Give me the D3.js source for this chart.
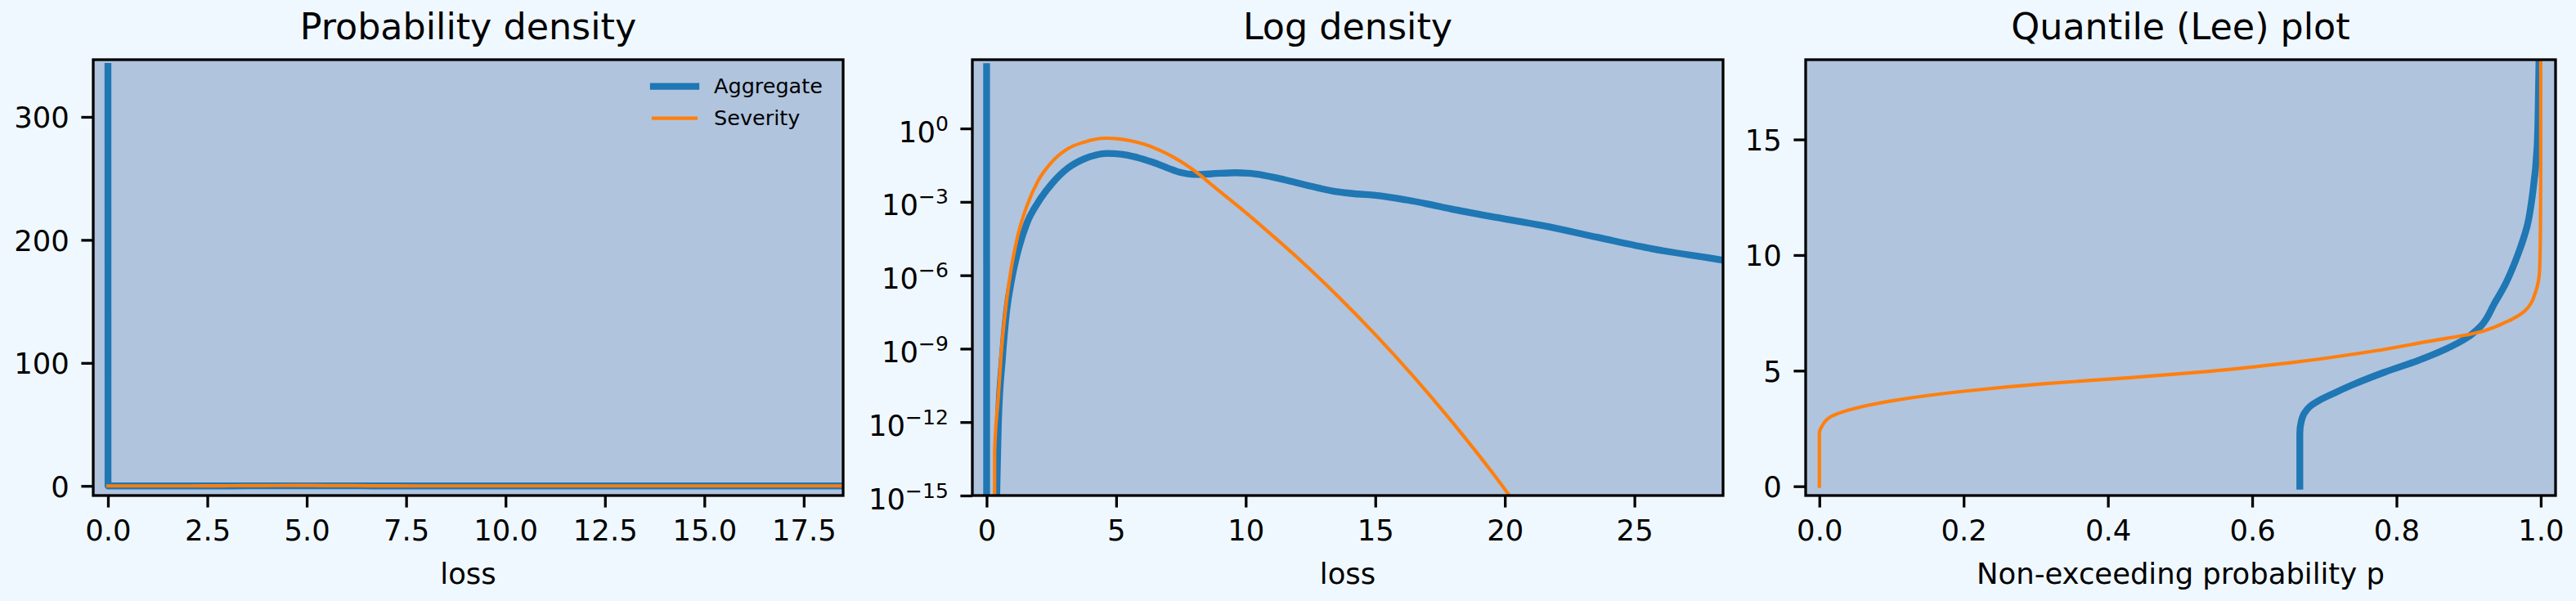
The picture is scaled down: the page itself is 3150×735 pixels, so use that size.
<!DOCTYPE html>
<html>
<head>
<meta charset="utf-8">
<script src="https://cdn.jsdelivr.net/npm/d3@7"></script>
<style>
  body { margin: 0; background: #f0f8ff; }
  svg { display: block; font-family: 'DejaVu Sans', sans-serif; }
</style>
</head>
<body>
<svg id="chart" width="3150" height="735"></svg>
<script>
// Aggregate density (loss, density) - mass at zero shows as a spike
let aggLoss = [0, 0.002, 0.38, 0.45, 0.61, 0.77, 0.98, 1.24, 1.56, 1.98, 2.51, 3.14, 3.78, 4.2, 4.65, 5.2, 5.8, 6.4, 7.0, 7.5, 8.0, 8.7, 9.6, 10.4, 11.2, 12.0, 12.8, 13.5, 14.3, 15.0, 16.2, 17.0, 17.9, 19.4, 21.5, 23.6, 25.7, 28.5, 30];
let aggDensity = [341, 1e-30, 3e-16, 6.3e-13, 4e-10, 3.2e-8, 7.9e-7, 1.26e-5, 1.4e-4, 9.3e-4, 5.4e-3, 2.4e-2, 5.8e-2, 8.1e-2, 9.5e-2, 8.9e-2, 6.6e-2, 4.2e-2, 2.4e-2, 1.58e-2, 1.32e-2, 1.41e-2, 1.55e-2, 1.38e-2, 9.5e-3, 5.9e-3, 3.7e-3, 2.6e-3, 2.1e-3, 1.86e-3, 1.2e-3, 8.3e-4, 5.2e-4, 2.6e-4, 1.05e-4, 3.5e-5, 1.2e-5, 4.0e-6, 2.0e-6];

// Severity density
let sevLoss = [0, 0.30, 0.31, 0.45, 0.56, 0.72, 0.93, 1.19, 1.56, 1.98, 2.51, 3.14, 3.78, 4.2, 4.62, 5.1, 5.57, 6.1, 6.62, 7.15, 7.68, 8.2, 8.73, 9.79, 10.84, 12.0, 13.5, 15.0, 16.5, 18.0, 19.5, 21.0];
let sevDensity = [1e-30, 1e-30, 6.3e-14, 1.0e-11, 5.6e-10, 3.2e-8, 1.4e-6, 3.6e-5, 7.1e-4, 7.1e-3, 4.2e-2, 0.15, 0.28, 0.365, 0.40, 0.375, 0.313, 0.224, 0.138, 0.0731, 0.0333, 0.0135, 4.57e-3, 5.6e-4, 6.3e-5, 5.2e-6, 1.6e-7, 3.8e-9, 6.8e-11, 9.1e-13, 9.1e-15, 6.3e-17];

// Quantile (Lee) plot: probability p -> loss
let aggProb = [0.666, 0.666, 0.668, 0.672, 0.68, 0.695, 0.715, 0.74, 0.784, 0.83, 0.868, 0.898, 0.917, 0.936, 0.951, 0.969, 0.981, 0.989, 0.995, 0.9968, 0.9976, 0.998];
let aggQuantile = [0, 2.3, 2.8, 3.15, 3.45, 3.75, 4.05, 4.4, 4.94, 5.44, 5.93, 6.43, 6.93, 7.92, 8.75, 10.08, 11.24, 12.73, 14.72, 17.0, 18.45, 20];
let sevProb = [0, 0, 0.004, 0.017, 0.048, 0.101, 0.2, 0.314, 0.427, 0.541, 0.655, 0.769, 0.845, 0.906, 0.951, 0.978, 0.993, 0.9985, 0.9995, 0.9999, 1.0, 1.0];
let sevQuantile = [0, 2.29, 2.62, 3.03, 3.36, 3.70, 4.11, 4.44, 4.69, 4.97, 5.35, 5.85, 6.27, 6.6, 7.09, 7.59, 8.42, 9.41, 11, 13, 18.45, 20];

let seriesNames = ['Aggregate', 'Severity'];
let seriesColors = ['#1f77b4', '#ff7f0e'];

let panelTitles = ['Probability density', 'Log density', 'Quantile (Lee) plot'];
let xLabels = ['loss', 'loss', 'Non-exceeding probability p'];

let pdfTicksX = [0, 2.5, 5, 7.5, 10, 12.5, 15, 17.5];
let pdfTicksY = [0, 100, 200, 300];
let logTicksX = [0, 5, 10, 15, 20, 25];
let logTicksY = [1e0, 1e-3, 1e-6, 1e-9, 1e-12, 1e-15];
let qTicksX = [0, 0.2, 0.4, 0.6, 0.8, 1.0];
let qTicksY = [0, 5, 10, 15];

let svg = d3.select('#chart');
svg.append('rect').attr('width', 3150).attr('height', 735).attr('fill', '#f0f8ff');

// layout
let plotTop = 73, plotBottom = 606;
let panelX = [[114, 1031], [1189, 2107], [2208, 3125]];
let tickLen = 14.6, spineW = 3.3;
let tickFont = 35.4, titleFont = 44.4, legendFont = 25.5;
let lineWidths = [8.33, 4.17];

function makeSeries(xs, ys) {
    return xs.map((x, i) => ({x: x, y: ys[i]}));
}

function drawPanel(i, xScale, yScale, series, xTicks, xFmt, yTicks, yFmt, curve) {
    let left = panelX[i][0], right = panelX[i][1];
    let g = svg.append('g').attr('id', 'panel' + i);

    // background
    g.append('rect')
    .attr('x', left).attr('y', plotTop)
    .attr('width', right - left).attr('height', plotBottom - plotTop)
    .attr('fill', '#b0c4de');

    g.append('clipPath').attr('id', 'clip' + i)
    .append('rect')
    .attr('x', left).attr('y', plotTop)
    .attr('width', right - left).attr('height', plotBottom - plotTop);

    let line = d3.line()
    .x((d) => xScale(d.x))
    .y((d) => yScale(d.y))
    .curve(curve);

    let lines = g.append('g').attr('clip-path', 'url(#clip' + i + ')');
    series.forEach((s, k) => {
        lines.append('path')
        .attr('d', line(s))
        .attr('fill', 'none')
        .attr('stroke', seriesColors[k])
        .attr('stroke-width', lineWidths[k])
        .attr('stroke-linecap', 'square')
        .attr('stroke-linejoin', 'round');
    });

    // x axis
    let xAxis = d3.axisBottom(xScale).tickValues(xTicks).tickFormat(xFmt)
    .tickSize(tickLen).tickPadding(15);
    let xg = g.append('g').attr('transform', 'translate(0,' + plotBottom + ')').call(xAxis);
    xg.select('.domain').remove();
    xg.attr('font-size', tickFont).attr('font-family', 'DejaVu Sans');
    xg.selectAll('.tick line').attr('stroke', '#000').attr('stroke-width', spineW);
    xg.selectAll('.tick text').attr('fill', '#000');

    // y axis
    let yAxis = d3.axisLeft(yScale).tickValues(yTicks).tickFormat(yFmt)
    .tickSize(tickLen).tickPadding(14.6);
    let yg = g.append('g').attr('transform', 'translate(' + left + ',0)').call(yAxis);
    yg.select('.domain').remove();
    yg.attr('font-size', tickFont).attr('font-family', 'DejaVu Sans');
    yg.selectAll('.tick line').attr('stroke', '#000').attr('stroke-width', spineW);
    yg.selectAll('.tick text').attr('fill', '#000').attr('dy', '0.36em');

    // spines on top
    g.append('rect')
    .attr('x', left).attr('y', plotTop)
    .attr('width', right - left).attr('height', plotBottom - plotTop)
    .attr('fill', 'none')
    .attr('stroke', '#000')
    .attr('stroke-width', spineW);

    // title
    g.append('text')
    .text(panelTitles[i])
    .attr('x', (left + right) / 2)
    .attr('y', 48)
    .attr('text-anchor', 'middle')
    .style('font-size', titleFont + 'px')
    .style('fill', '#000');

    // x label
    g.append('text')
    .text(xLabels[i])
    .attr('x', (left + right) / 2)
    .attr('y', 714)
    .attr('text-anchor', 'middle')
    .style('font-size', tickFont + 'px')
    .style('fill', '#000');

    return {g: g, yg: yg};
}

// Panel 1: probability density
let x1 = d3.scaleLinear().domain([-0.37, 18.49]).range(panelX[0]);
let y1 = d3.scaleLinear().domain([-7.8, 346.5]).range([plotBottom, plotTop]);
let p1 = drawPanel(0, x1, y1,
    [makeSeries(aggLoss, aggDensity), makeSeries(sevLoss, sevDensity)],
    pdfTicksX, d3.format('.1f'), pdfTicksY, d3.format('d'), d3.curveMonotoneX);

// legend
let legend = p1.g.append('g').attr('transform', 'translate(' + panelX[0][0] + ',' + plotTop + ')');
seriesNames.forEach((name, k) => {
    let rowY = 32.7 + k * 39;
    legend.append('line')
    .attr('x1', 685).attr('x2', 737)
    .attr('y1', rowY).attr('y2', rowY)
    .attr('stroke', seriesColors[k])
    .attr('stroke-width', lineWidths[k])
    .attr('stroke-linecap', 'square');
    legend.append('text')
    .text(name)
    .attr('x', 759)
    .attr('y', rowY + 8.6)
    .style('font-size', legendFont + 'px')
    .style('fill', '#000');
});

// Panel 2: log density
let x2 = d3.scaleLinear().domain([-0.55, 28.42]).range(panelX[1]);
let y2 = d3.scaleLog().domain([1e-15, Math.pow(10, 2.81)]).range([plotBottom, plotTop]);
let p2 = drawPanel(1, x2, y2,
    [makeSeries(aggLoss, aggDensity), makeSeries(sevLoss, sevDensity)],
    logTicksX, d3.format('d'), logTicksY, () => '', d3.curveMonotoneX);

// 10^n labels with superscript
p2.yg.selectAll('.tick text').each(function(d) {
    let t = d3.select(this).attr('dy', null).attr('y', 16);
    let e = Math.round(Math.log10(d));
    t.append('tspan').text('10');
    t.append('tspan')
    .text(e < 0 ? '\u2212' + Math.abs(e) : String(e))
    .attr('dy', -14)
    .attr('font-size', 25);
});

// Panel 3: quantile plot
let x3 = d3.scaleLinear().domain([-0.019, 1.0205]).range(panelX[2]);
let y3 = d3.scaleLinear().domain([-0.4, 18.45]).range([plotBottom, plotTop]);
drawPanel(2, x3, y3,
    [makeSeries(aggProb, aggQuantile), makeSeries(sevProb, sevQuantile)],
    qTicksX, d3.format('.1f'), qTicksY, d3.format('d'), d3.curveMonotoneY);
</script>
</body>
</html>
